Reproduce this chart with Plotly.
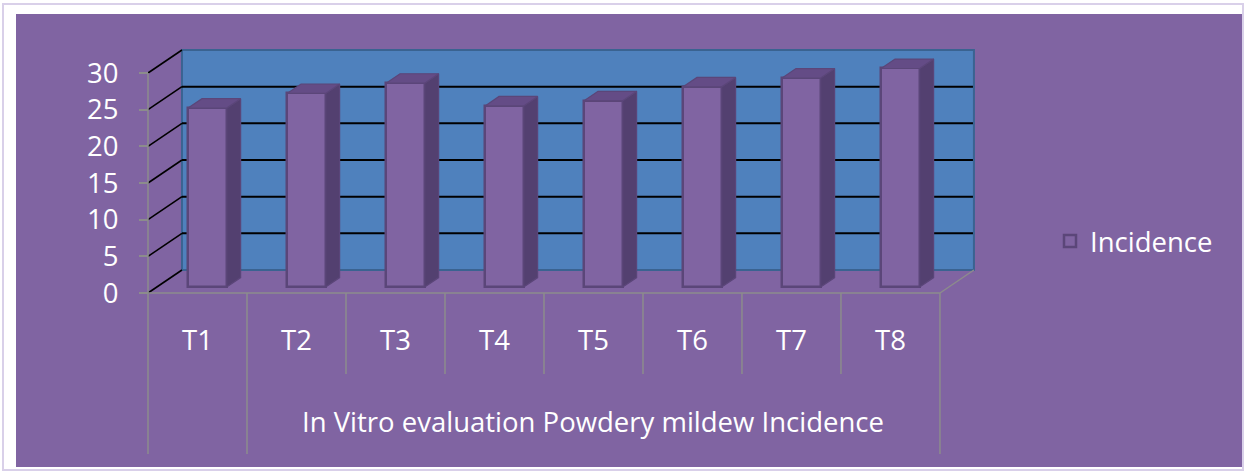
import plotly.graph_objects as go

# ---------------- data ----------------
categories = ["T1", "T2", "T3", "T4", "T5", "T6", "T7", "T8"]
incidence = [24.4, 26.4, 27.8, 24.7, 25.4, 27.3, 28.5, 29.8]
y_ticks = [0, 5, 10, 15, 20, 25, 30]
group_labels = ["", "In Vitro evaluation Powdery mildew Incidence"]
group_sizes = [1, 7]
series_name = "Incidence"

# ---------------- geometry / style ----------------
W, H = 1244, 472
X_RANGE = [-1.995, 10.571]      # category units
Y_RANGE = [-24.41, 39.955]      # value units
DX, DY = 0.343, 3.136           # depth offset of back wall (oblique projection)
BAR_FRONT = 0.26                # bar front plane (fraction of depth)
BAR_DEPTH = 0.41                # bar depth (fraction of depth)
BAR_W = 0.39
BAR_OFF = 0.10
FONT = "Open Sans"
FS = 27.5
PURPLE = "#8064A2"
SIDE = "#534070"
TOP = "#644C86"
EDGE = "#5B4679"
WALL = "#4F81BD"
WALL_EDGE = "#3A6391"
GRAY = "#8C8C8C"

n = len(categories)
vmax = y_ticks[-1]
left, right = -0.5, n - 0.5

def px(xpix):
    return xpix / W

def py(ypix):
    return 1 - ypix / H

fig = go.Figure()

# front faces of the columns
centers = [i + BAR_OFF for i in range(n)]
base = BAR_FRONT * DY
fig.add_trace(go.Bar(
    x=centers, y=incidence, base=[base] * n, width=BAR_W,
    name=series_name, showlegend=True,
    marker=dict(color=PURPLE, line=dict(color=EDGE, width=2.5)),
    hoverinfo="skip",
))

# side and top faces (derived from the values)
sx, sy = BAR_DEPTH * DX, BAR_DEPTH * DY
side_x, side_y, top_x, top_y = [], [], [], []
for c, v in zip(centers, incidence):
    xl, xr = c - BAR_W / 2, c + BAR_W / 2
    b, t = base, base + v
    side_x += [xr, xr + sx, xr + sx, xr, xr, None]
    side_y += [b, b + sy, t + sy, t, b, None]
    top_x += [xl, xl + sx, xr + sx, xr, xl, None]
    top_y += [t, t + sy, t + sy, t, t, None]
fig.add_trace(go.Scatter(x=side_x, y=side_y, fill="toself", fillcolor=SIDE,
                         mode="lines", line=dict(color=EDGE, width=1.2),
                         showlegend=False, hoverinfo="skip"))
fig.add_trace(go.Scatter(x=top_x, y=top_y, fill="toself", fillcolor=TOP,
                         mode="lines", line=dict(color=EDGE, width=1.2),
                         showlegend=False, hoverinfo="skip"))

shapes = []
# outer frame and chart background
shapes.append(dict(type="rect", xref="paper", yref="paper",
                   x0=px(3), x1=px(1243), y0=py(470), y1=py(4),
                   line=dict(color="#D9D0E9", width=2), fillcolor="white", layer="below"))
shapes.append(dict(type="rect", xref="paper", yref="paper",
                   x0=px(16), x1=px(1242), y0=py(467), y1=py(14),
                   line=dict(width=0), fillcolor=PURPLE, layer="below"))
# back wall
shapes.append(dict(type="rect", xref="x", yref="y",
                   x0=left + DX, x1=right + DX, y0=DY, y1=vmax + DY,
                   fillcolor=WALL, line=dict(color=WALL_EDGE, width=2), layer="below"))
# gridlines on back wall + diagonals on left side
for v in y_ticks:
    if 0 < v < vmax:
        shapes.append(dict(type="line", xref="x", yref="y",
                           x0=left + DX, x1=right + DX - 0.01, y0=v + DY, y1=v + DY,
                           line=dict(color="black", width=2), layer="below"))
    shapes.append(dict(type="line", xref="x", yref="y",
                       x0=left, x1=left + DX, y0=v, y1=v + DY,
                       line=dict(color="black", width=1.6), layer="below"))
# front vertical axis line
shapes.append(dict(type="line", xref="x", yref="y", x0=left, x1=left, y0=0, y1=vmax,
                   line=dict(color=GRAY, width=1.5), layer="below"))
# floor edges
shapes.append(dict(type="line", xref="x", yref="y", x0=left, x1=right, y0=0, y1=0,
                   line=dict(color=GRAY, width=1.5), layer="below"))
shapes.append(dict(type="line", xref="x", yref="y", x0=right, x1=right + DX, y0=0, y1=DY,
                   line=dict(color=GRAY, width=1.5), layer="below"))
# category dividers (multi-level axis)
inner_bottom, outer_bottom = -11.05, -21.95
group_edges = [left]
for s in group_sizes:
    group_edges.append(group_edges[-1] + s)
for k in range(n + 1):
    xk = left + k
    bottom = outer_bottom if any(abs(xk - g) < 1e-9 for g in group_edges) else inner_bottom
    shapes.append(dict(type="line", xref="x", yref="y", x0=xk, x1=xk, y0=0, y1=bottom,
                       line=dict(color=GRAY, width=1.5), layer="below"))

annotations = []
for lab, a, b in zip(group_labels, group_edges[:-1], group_edges[1:]):
    if lab:
        annotations.append(dict(x=(a + b) / 2, y=-17.5, xref="x", yref="y",
                                text=lab, showarrow=False,
                                font=dict(family=FONT, size=FS, color="white"),
                                xanchor="center", yanchor="middle"))

span_x = X_RANGE[1] - X_RANGE[0]
span_y = Y_RANGE[1] - Y_RANGE[0]

fig.update_layout(
    width=W, height=H, autosize=False,
    margin=dict(l=0, r=0, t=0, b=0, pad=0),
    paper_bgcolor="white", plot_bgcolor="rgba(0,0,0,0)",
    shapes=shapes, annotations=annotations,
    showlegend=True,
    legend=dict(x=px(1050), y=py(241), xanchor="left", yanchor="middle",
                font=dict(family=FONT, size=FS, color="white"),
                bgcolor="rgba(0,0,0,0)", borderwidth=0),
    xaxis=dict(range=X_RANGE, anchor="free", position=(0 - Y_RANGE[0]) / span_y,
               tickmode="array", tickvals=list(range(n)), ticktext=categories,
               ticks="", showline=False, showgrid=False, zeroline=False,
               ticklabelstandoff=29,
               tickfont=dict(family=FONT, size=FS, color="white")),
    yaxis=dict(range=Y_RANGE, anchor="free", position=(left - X_RANGE[0]) / span_x,
               tickmode="array", tickvals=y_ticks,
               ticks="outside", ticklen=9, tickwidth=1.5, tickcolor=GRAY,
               showline=False, showgrid=False, zeroline=False,
               ticklabelstandoff=15,
               tickfont=dict(family=FONT, size=FS, color="white")),
    bargap=0,
)

fig.write_html("out.html", config={"displayModeBar": False},
               post_script="document.body.style.margin='0';")
